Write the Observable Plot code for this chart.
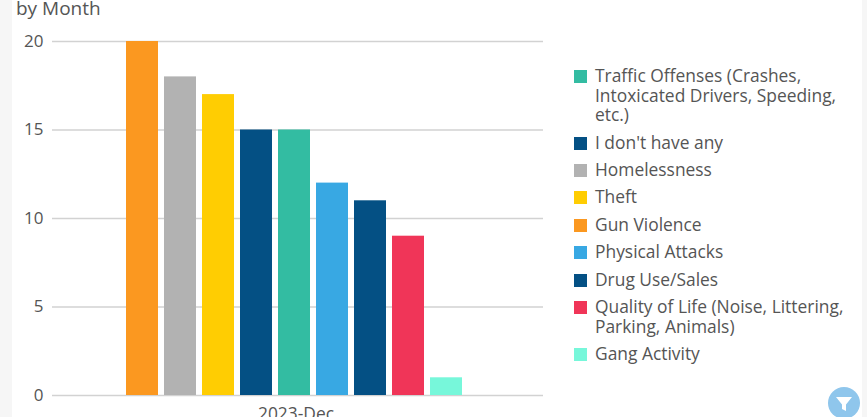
<!DOCTYPE html>
<html><head><meta charset="utf-8">
<script src="https://cdn.jsdelivr.net/npm/d3@7"></script>
<script src="https://cdn.jsdelivr.net/npm/@observablehq/plot@0.6"></script>
<style>
html,body{margin:0;padding:0;width:867px;height:417px;overflow:hidden;background:#f6f6f6;font-family:"Open Sans",sans-serif}
#card{position:absolute;left:12px;top:0;width:850px;height:417px;background:#fff}
#chart{position:absolute;left:0;top:0}
#chart svg{background:transparent;display:block}
#title{position:absolute;left:16px;top:-4px;font-size:19px;line-height:24px;color:#555}
#legend{position:absolute;left:574px;top:66px;width:280px;color:#555;font-size:17.4px;line-height:19.6px}
.item{position:relative;padding-left:21px;margin-bottom:7.8px}
.sw{position:absolute;left:0;top:4px;width:13px;height:13px}
#filter{position:absolute;left:828px;top:387px}
</style></head>
<body>
<div id="card"></div>
<div id="chart"></div>
<div id="title">by Month</div>
<div id="legend"></div>
<svg id="filter" width="32" height="32" viewBox="0 0 32 32"><circle cx="16" cy="16" r="16" fill="#8fc6ec"/><path d="M8 10H24L18 17.5V24L14 22V17.5Z" fill="#fff"/></svg>
<script>
const month = "2023-Dec";
const categories = ["Gun Violence","Homelessness","Theft","I don't have any","Traffic Offenses (Crashes, Intoxicated Drivers, Speeding, etc.)","Physical Attacks","Drug Use/Sales","Quality of Life (Noise, Littering, Parking, Animals)","Gang Activity"];
const values = [20,18,17,15,15,12,11,9,1];
const colors = ["#fb9820","#b2b2b2","#ffcd02","#045084","#33bca2","#38a8e3","#045084","#f03558","#77f7da"];
const legendOrder = ["Traffic Offenses (Crashes, Intoxicated Drivers, Speeding, etc.)","I don't have any","Homelessness","Theft","Gun Violence","Physical Attacks","Drug Use/Sales","Quality of Life (Noise, Littering, Parking, Animals)","Gang Activity"];
const yTicks = [0,5,10,15,20];

const rows = categories.map((c,i)=>({category:c,value:values[i],month}));
const plot = Plot.plot({
  width:867,height:417,marginLeft:52,marginRight:324,marginTop:41,marginBottom:22,
  style:{fontFamily:"Open Sans",background:"transparent",overflow:"hidden"},
  fx:{domain:[month],padding:0,label:null,axis:null},
  x:{domain:categories,range:[119.4,468.9],padding:0.15,axis:null},
  y:{domain:[0,20],range:[395,41],ticks:yTicks,label:null,tickSize:0},
  color:{domain:categories,range:colors},
  marks:[
    Plot.ruleY(yTicks,{stroke:"#d2d2d2",strokeWidth:1.3}),
    Plot.barY(rows,{fx:"month",x:"category",y:"value",fill:"category"}),
    Plot.axisY(yTicks,{tickSize:0,tickPadding:9,label:null}),
    Plot.axisFx({anchor:"bottom",tickSize:0,tickPadding:12,dx:-2,label:null})
  ]
});
document.getElementById("chart").append(plot);
d3.select(plot).selectAll("text").attr("fill","#555").style("font-size","17px");
d3.select(plot).selectAll("text").filter(function(){return this.textContent===month}).style("font-size","17.4px");
const lg = document.getElementById("legend");
legendOrder.forEach(name=>{
  const d=document.createElement("div");d.className="item";
  const s=document.createElement("span");s.className="sw";s.style.background=colors[categories.indexOf(name)];
  d.append(s,document.createTextNode(name));lg.append(d);
});
</script>
</body></html>
